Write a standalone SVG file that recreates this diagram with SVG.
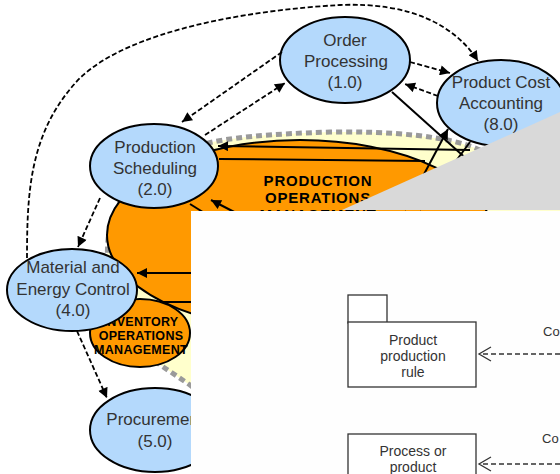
<svg xmlns="http://www.w3.org/2000/svg" width="560" height="474" viewBox="0 0 560 474">
<style>
.blue{fill:#b4d9fc;stroke:#000;stroke-width:2}
.lbl{font-family:"Liberation Sans",Arial,sans-serif;font-size:17px;fill:#333;text-anchor:middle}
.bold{font-family:"Liberation Sans",Arial,sans-serif;font-weight:bold;fill:#000;text-anchor:middle}
.solid{fill:none;stroke:#000;stroke-width:2}
.dash{fill:none;stroke:#000;stroke-width:1.8;stroke-dasharray:5 2.5}
.uml{fill:#fff;stroke:#333;stroke-width:1.3}
.umlt{font-family:"Liberation Sans",Arial,sans-serif;font-size:14px;fill:#333;text-anchor:middle}
.co{font-family:"Liberation Sans",Arial,sans-serif;font-size:13px;fill:#333}
</style>
<defs>
<marker id="ah" viewBox="0 0 10 10" refX="10" refY="5" markerWidth="11" markerHeight="10" markerUnits="userSpaceOnUse" orient="auto">
<path d="M0,0 L10,5 L0,10 Z" fill="#000"/>
</marker>
</defs>
<rect width="560" height="474" fill="#fff"/>
<g id="domain">
<path d="M480,150 C450,136 390,131 330,132 C270,134 230,137 200,145 C150,160 112,195 108,240 C105,280 110,330 150,358 L190,385 L260,440 L560,474 L560,150 Z" fill="#ffffcc"/>
<path d="M480,150 C450,136 390,131 330,132 C270,134 230,137 200,145 C150,160 112,195 108,240 C105,280 110,330 150,358 L190,385 L260,440" fill="none" stroke="#9a9a9a" stroke-width="5" stroke-dasharray="6 4"/>
</g>
<g id="production-operations">
<ellipse cx="300" cy="235" rx="193" ry="95" fill="#ff9900" stroke="#000" stroke-width="2"/>
</g>
<g id="connectors-solid">
<path class="solid" d="M470,150 L218,146" marker-end="url(#ah)"/>
<path class="solid" d="M219,159 L425,161"/>
<path class="solid" d="M405,210 L448,129" marker-end="url(#ah)"/>
<path class="solid" d="M392,92 L490,180"/>
<path class="solid" d="M470,142 L420,210"/>
<path class="solid" d="M242,216 L211,200" marker-end="url(#ah)"/>
<path class="solid" d="M190,204 L206,214"/>
<path class="solid" d="M195,273 L137,273" marker-end="url(#ah)"/>
<path class="solid" d="M192,302 L134,302" stroke-width="2.5"/>
</g>
<g id="production-operations-label">
<text class="bold" font-size="15" letter-spacing="0.8" x="318" y="186">PRODUCTION</text>
<text class="bold" font-size="15" letter-spacing="0.8" x="318" y="203">OPERATIONS</text>
<text class="bold" font-size="15" letter-spacing="0.8" x="318" y="220">MANAGEMENT</text>
</g>
<g id="inventory">
<ellipse cx="140" cy="333" rx="50" ry="34" fill="#ff9900" stroke="#000" stroke-width="2"/>
<text class="bold" font-size="12.5" letter-spacing="0.3" x="141" y="326">INVENTORY</text>
<text class="bold" font-size="12.5" letter-spacing="0.3" x="141" y="340">OPERATIONS</text>
<text class="bold" font-size="12.5" letter-spacing="0.3" x="141" y="354">MANAGEMENT</text>
</g>
<g id="order-processing">
<ellipse class="blue" cx="345" cy="60" rx="65" ry="43"/>
<text class="lbl" x="345" y="46">Order</text>
<text class="lbl" x="346" y="67">Processing</text>
<text class="lbl" x="345" y="88">(1.0)</text>
</g>
<g id="product-cost-accounting">
<ellipse class="blue" cx="501" cy="103" rx="64" ry="43"/>
<text class="lbl" x="501" y="88">Product Cost</text>
<text class="lbl" x="501" y="109">Accounting</text>
<text class="lbl" x="501" y="130">(8.0)</text>
</g>
<g id="production-scheduling">
<ellipse class="blue" cx="154" cy="166" rx="64" ry="42"/>
<text class="lbl" x="155" y="153">Production</text>
<text class="lbl" x="155" y="174">Scheduling</text>
<text class="lbl" x="155" y="195">(2.0)</text>
</g>
<g id="material-energy-control">
<ellipse class="blue" cx="72" cy="290" rx="65" ry="41"/>
<text class="lbl" x="73" y="273">Material and</text>
<text class="lbl" x="73" y="295">Energy Control</text>
<text class="lbl" x="73" y="316">(4.0)</text>
</g>
<g id="procurement">
<ellipse class="blue" cx="155" cy="430" rx="65" ry="42"/>
<text class="lbl" x="155" y="425">Procurement</text>
<text class="lbl" x="155" y="447">(5.0)</text>
</g>
<g id="connectors-dashed">
<path class="dash" d="M27,258 C27,190 30,130 80,78 C130,30 250,10 340,5 C410,2 455,25 478,61" marker-end="url(#ah)"/>
<path class="dash" d="M282,52 L182,122" marker-end="url(#ah)"/>
<path class="dash" d="M205,135 L285,83" marker-end="url(#ah)"/>
<path class="dash" d="M410,62 L450,73" marker-end="url(#ah)"/>
<path class="dash" d="M438,96 L405,84" marker-end="url(#ah)"/>
<path class="dash" d="M100,198 L78,247" marker-end="url(#ah)"/>
<path class="dash" d="M77,331 L107,398" marker-end="url(#ah)"/>
</g>
<polygon id="grey-overlay" points="342,210 560,112 560,210" fill="#d9d9d9"/>
<g id="panel">
<rect x="191" y="211" width="369" height="263" fill="#fefefe"/>
<g id="product-production-rule">
<rect class="uml" x="348" y="295" width="39" height="28"/>
<rect class="uml" x="348" y="322" width="128" height="65"/>
<text class="umlt" x="413" y="345">Product</text>
<text class="umlt" x="413" y="361">production</text>
<text class="umlt" x="413" y="377">rule</text>
</g>
<g id="process-or-product">
<rect class="uml" x="348" y="434" width="128" height="60"/>
<text class="umlt" x="413" y="456">Process or</text>
<text class="umlt" x="413" y="472">product</text>
</g>
<g id="panel-connectors" fill="none" stroke="#333" stroke-width="1.3">
<path d="M560,354 L480,354" stroke-dasharray="5 3"/>
<path d="M491,347 L479,354 L491,361"/>
<path d="M560,464 L480,464" stroke-dasharray="5 3"/>
<path d="M491,457 L479,464 L491,471"/>
</g>
<text class="co" x="543" y="336">Co</text>
<text class="co" x="542" y="443">Co</text>
</g>
</svg>
